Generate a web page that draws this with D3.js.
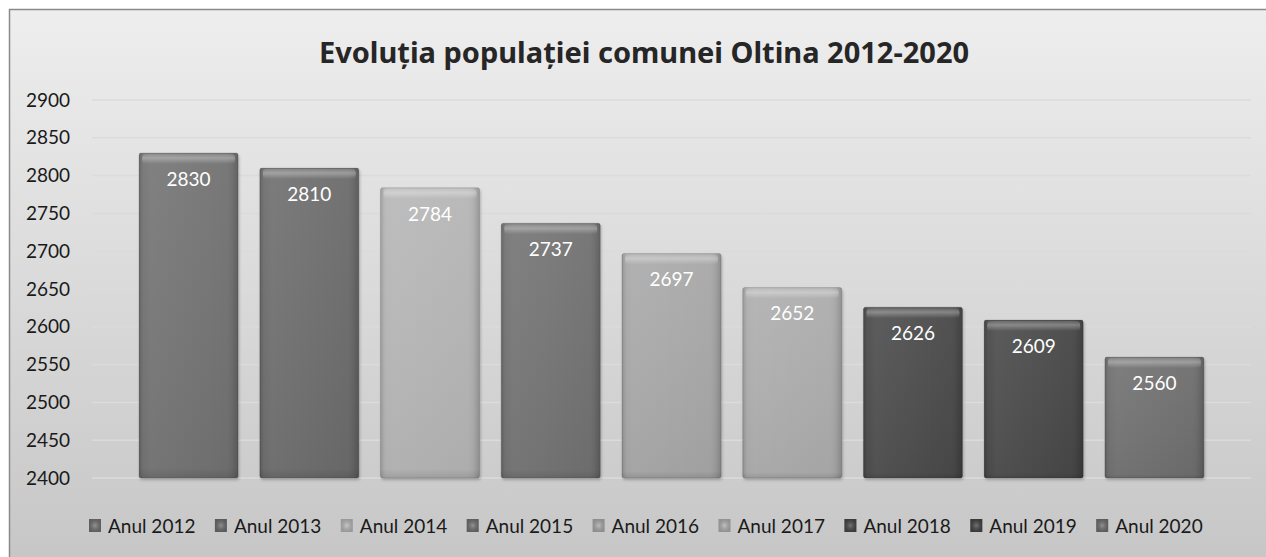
<html>
  <head>
    <meta charset="utf-8">
    <title>Evolutia populatiei</title>
    <script src="https://d3js.org/d3.v7.min.js"></script>
    <style>
      body { margin: 0; background: #fff; }
    </style>
  </head>
  <body>

    <svg id="grafico" width="1266" height="557"></svg>

    <script>
    // date
    const years = ["Anul 2012","Anul 2013","Anul 2014","Anul 2015","Anul 2016","Anul 2017","Anul 2018","Anul 2019","Anul 2020"];
    const population = [2830, 2810, 2784, 2737, 2697, 2652, 2626, 2609, 2560];
    const yTicks = [2400, 2450, 2500, 2550, 2600, 2650, 2700, 2750, 2800, 2850, 2900];
    const title = "Evoluția populației comunei Oltina 2012-2020";
    // culori (gri)
    const barColors = ["#707070","#6b6b6b","#b5b5b5","#6f6f6f","#a7a7a7","#acacac","#464646","#444444","#6d6d6d"];

    let width = 1266;
    let height = 557;
    let svg = d3.select("#grafico").style("font-family","Lato, 'Noto Sans', sans-serif");
    let defs = svg.append("defs");

    // fundal
    let bg = defs.append("linearGradient").attr("id","bg").attr("x1",0).attr("y1",0).attr("x2",0).attr("y2",1);
    bg.append("stop").attr("offset","0%").attr("stop-color","#eeeeee");
    bg.append("stop").attr("offset","100%").attr("stop-color","#c6c6c6");
    svg.append("rect")
      .attr("x",9.5).attr("y",9.5)
      .attr("width",width).attr("height",height)
      .attr("fill","url(#bg)")
      .attr("stroke","#8a8a8a").attr("stroke-width",1.5);

    // gradient orizontal pt bare (margini mai inchise)
    let side = defs.append("linearGradient").attr("id","side").attr("x1",0).attr("y1",0).attr("x2",1).attr("y2",0);
    side.append("stop").attr("offset","0%").attr("stop-color","#000").attr("stop-opacity",0.15);
    side.append("stop").attr("offset","6%").attr("stop-color","#fff").attr("stop-opacity",0.05);
    side.append("stop").attr("offset","12%").attr("stop-color","#fff").attr("stop-opacity",0.08);
    side.append("stop").attr("offset","88%").attr("stop-color","#fff").attr("stop-opacity",0.02);
    side.append("stop").attr("offset","94%").attr("stop-color","#000").attr("stop-opacity",0.04);
    side.append("stop").attr("offset","100%").attr("stop-color","#000").attr("stop-opacity",0.18);
    let vert = defs.append("linearGradient").attr("id","vert").attr("x1",0).attr("y1",0).attr("x2",0).attr("y2",1);
    vert.append("stop").attr("offset","0%").attr("stop-color","#fff").attr("stop-opacity",0.04);
    vert.append("stop").attr("offset","97%").attr("stop-color","#000").attr("stop-opacity",0.05);
    vert.append("stop").attr("offset","100%").attr("stop-color","#000").attr("stop-opacity",0.15);
    let bevel = defs.append("linearGradient").attr("id","bevel").attr("x1",0).attr("y1",0).attr("x2",0).attr("y2",1);
    bevel.append("stop").attr("offset","0%").attr("stop-color","#fff").attr("stop-opacity",0.1);
    bevel.append("stop").attr("offset","40%").attr("stop-color","#fff").attr("stop-opacity",0.3);
    bevel.append("stop").attr("offset","100%").attr("stop-color","#fff").attr("stop-opacity",0);
    let marker = defs.append("radialGradient").attr("id","marker");
    marker.append("stop").attr("offset","0%").attr("stop-color","#fff").attr("stop-opacity",0.25);
    marker.append("stop").attr("offset","100%").attr("stop-color","#000").attr("stop-opacity",0.15);

    let shadow = defs.append("filter").attr("id","shadow").attr("x","-10%").attr("y","-10%").attr("width","130%").attr("height","130%");
    shadow.append("feDropShadow").attr("dx",1).attr("dy",2).attr("stdDeviation",1.5).attr("flood-color","#000").attr("flood-opacity",0.25);

    // scale
    let x = d3.scaleBand().domain(years).range([92, 1251]).paddingInner(0.18).paddingOuter(0.39);
    let y = d3.scaleLinear().domain([2400, 2900]).range([478, 100]);

    // titlu
    svg.append("text")
      .attr("x", 644).attr("y", 63)
      .attr("text-anchor","middle")
      .attr("font-size", 29).attr("font-weight","bold")
      .style("font-family","'Noto Sans', sans-serif")
      .attr("fill","#262626")
      .text(title);

    // grila
    svg.append("g")
      .selectAll("line")
      .data(yTicks)
      .enter()
      .append("line")
      .attr("x1",92).attr("x2",1251)
      .attr("y1",d=>y(d)).attr("y2",d=>y(d))
      .attr("stroke","#dbdbdb").attr("stroke-width",1.5);

    // axa y
    let yAxis = d3.axisLeft(y).tickValues(yTicks).tickSize(0).tickPadding(0).tickFormat(d3.format("d"));
    let gy = svg.append("g").attr("transform","translate(70,0)").call(yAxis);
    gy.select(".domain").remove();
    gy.selectAll("text").attr("font-size",19).attr("fill","#1a1a1a").style("font-family","Lato");

    // bare
    let bars = svg.append("g")
      .selectAll("g")
      .data(years)
      .enter()
      .append("g");

    bars.append("rect")
      .attr("x",d=>x(d)).attr("y",(d,i)=>y(population[i]))
      .attr("width",x.bandwidth())
      .attr("height",(d,i)=>y(2400)-y(population[i]))
      .attr("fill",(d,i)=>barColors[i])
      .attr("rx",2)
      .attr("filter","url(#shadow)");
    bars.append("rect")
      .attr("x",d=>x(d)).attr("y",(d,i)=>y(population[i]))
      .attr("width",x.bandwidth())
      .attr("height",(d,i)=>y(2400)-y(population[i]))
      .attr("fill","url(#side)").attr("rx",2);
    bars.append("rect")
      .attr("x",d=>x(d)).attr("y",(d,i)=>y(population[i]))
      .attr("width",x.bandwidth())
      .attr("height",(d,i)=>y(2400)-y(population[i]))
      .attr("fill","url(#vert)").attr("rx",2)
      .attr("stroke","#000").attr("stroke-opacity",0.12);
    // muchia de sus
    bars.append("rect")
      .attr("x",d=>x(d)+3).attr("y",(d,i)=>y(population[i])+1)
      .attr("width",x.bandwidth()-6)
      .attr("height",10)
      .attr("fill","url(#bevel)").attr("rx",4);

    // etichete
    bars.append("text")
      .attr("x",d=>x(d)+x.bandwidth()/2)
      .attr("y",(d,i)=>y(population[i])+33)
      .attr("text-anchor","middle")
      .attr("font-size",19)
      .attr("fill","#ffffff")
      .text((d,i)=>population[i]);

    // legenda
    let legend = svg.append("g")
      .selectAll("g")
      .data(years)
      .enter()
      .append("g")
      .attr("transform",(d,i)=>"translate(" + (89 + i*125.9) + ",519)");
    legend.append("rect")
      .attr("width",12).attr("height",13)
      .attr("fill",(d,i)=>barColors[i]);
    legend.append("rect")
      .attr("width",12).attr("height",13)
      .attr("fill","url(#marker)");
    legend.append("text")
      .attr("x",19).attr("y",14)
      .attr("font-size",19)
      .attr("fill","#1a1a1a")
      .text(d=>d);
    </script>

  </body>
</html>
